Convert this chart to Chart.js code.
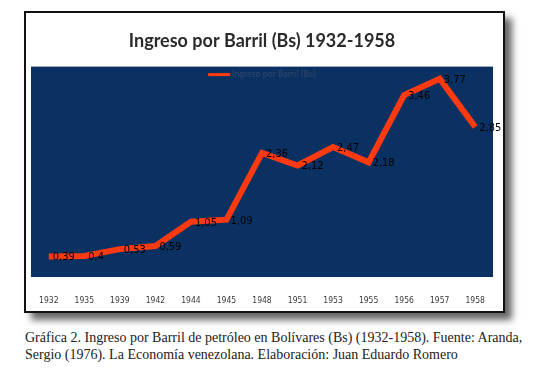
<!DOCTYPE html>
<html>
<head>
<meta charset="utf-8">
<script src="https://cdn.jsdelivr.net/npm/chart.js@4.4.1/dist/chart.umd.min.js"></script>
<style>
  html, body { margin: 0; padding: 0; background: #fff; }
  body { width: 536px; height: 371px; position: relative; overflow: hidden; }
  #frame {
    position: absolute; left: 24px; top: 11px;
    width: 477px; height: 298px;
    border: 2px solid #111;
    background: #fff;
    box-shadow: 7px 7px 7px rgba(0, 0, 0, 0.6);
  }
  #frame canvas { display: block; }
  #caption {
    position: absolute; left: 25px; top: 329px; width: 505px;
    font-family: "Liberation Serif", serif; font-size: 14px; line-height: 17px;
    color: #222;
  }
</style>
</head>
<body>
<div id="frame"><canvas id="chart" width="477" height="298"></canvas></div>
<div id="caption">Gráfica 2. Ingreso por Barril de petróleo en Bolívares (Bs) (1932-1958). Fuente: Aranda, Sergio (1976). La Economía venezolana. Elaboración: Juan Eduardo Romero</div>
<script>
// Ingreso por barril (Bs), years as printed on the axis
const years = ['1932', '1935', '1939', '1942', '1944', '1945', '1948', '1951', '1953', '1955', '1956', '1957', '1958'];
const ingreso = [0.39, 0.4, 0.53, 0.59, 1.05, 1.09, 2.36, 2.12, 2.47, 2.18, 3.46, 3.77, 2.85];

const NAVY = '#0b3163';
const RED = '#ff3a10';

// navy plot panel behind the series, plus the legend sitting inside it
const plotPanel = {
  id: 'plotPanel',
  beforeDraw(chart) {
    const { ctx, chartArea: a } = chart;
    ctx.save();
    ctx.fillStyle = NAVY;
    ctx.fillRect(a.left, a.top, a.right - a.left, a.bottom - a.top);

    // legend: short red line + series name, centred at the top of the panel
    const ds = chart.data.datasets[0];
    ctx.font = '8.5px "DejaVu Sans Condensed", sans-serif';
    const tw = ctx.measureText(ds.label).width;
    const lineW = 22;
    const x0 = (a.left + a.right) / 2 - (lineW + 2 + tw) / 2;
    const y = a.top + 8;
    ctx.strokeStyle = ds.borderColor;
    ctx.lineWidth = 3;
    ctx.beginPath();
    ctx.moveTo(x0, y);
    ctx.lineTo(x0 + lineW, y);
    ctx.stroke();
    ctx.fillStyle = '#34476a';
    ctx.textAlign = 'left';
    ctx.textBaseline = 'middle';
    ctx.fillText(ds.label, x0 + lineW + 2, y);
    ctx.restore();
  },
};

// value labels to the right of each point, decimal comma
const valueLabels = {
  id: 'valueLabels',
  afterDatasetsDraw(chart) {
    const { ctx } = chart;
    const meta = chart.getDatasetMeta(0);
    ctx.save();
    ctx.font = '11px "DejaVu Sans Condensed", sans-serif';
    ctx.fillStyle = '#000';
    ctx.textAlign = 'left';
    ctx.textBaseline = 'middle';
    meta.data.forEach((pt, i) => {
      ctx.fillText(String(ingreso[i]).replace('.', ','), pt.x + 4, pt.y + 1);
    });
    ctx.restore();
  },
};

new Chart(document.getElementById('chart'), {
  type: 'line',
  data: {
    labels: years,
    datasets: [{
      label: 'Ingreso por Barril (Bs)',
      data: ingreso,
      borderColor: RED,
      backgroundColor: RED,
      borderWidth: 6,
      pointRadius: 0,
      tension: 0,
    }],
  },
  options: {
    responsive: false,
    animation: false,
    layout: { padding: { left: 5, right: 10, top: 0, bottom: 8 } },
    scales: {
      x: {
        offset: true,
        grid: { display: false },
        border: { display: false },
        afterFit(scale) { scale.height = 26; },
        ticks: {
          color: '#3a3a3a',
          padding: 11,
          maxRotation: 0,
          autoSkip: false,
          font: { family: '"DejaVu Sans Condensed", sans-serif', size: 8.5 },
        },
      },
      y: { display: false, min: 0, max: 4 },
    },
    plugins: {
      title: {
        display: true,
        text: 'Ingreso por Barril (Bs) 1932-1958',
        color: '#2b2b2b',
        font: { family: 'Lato', size: 18, weight: 'bold' },
        padding: { top: 17, bottom: 15 },
      },
      legend: { display: false },
      tooltip: { enabled: false },
    },
  },
  plugins: [plotPanel, valueLabels],
});
</script>
</body>
</html>
